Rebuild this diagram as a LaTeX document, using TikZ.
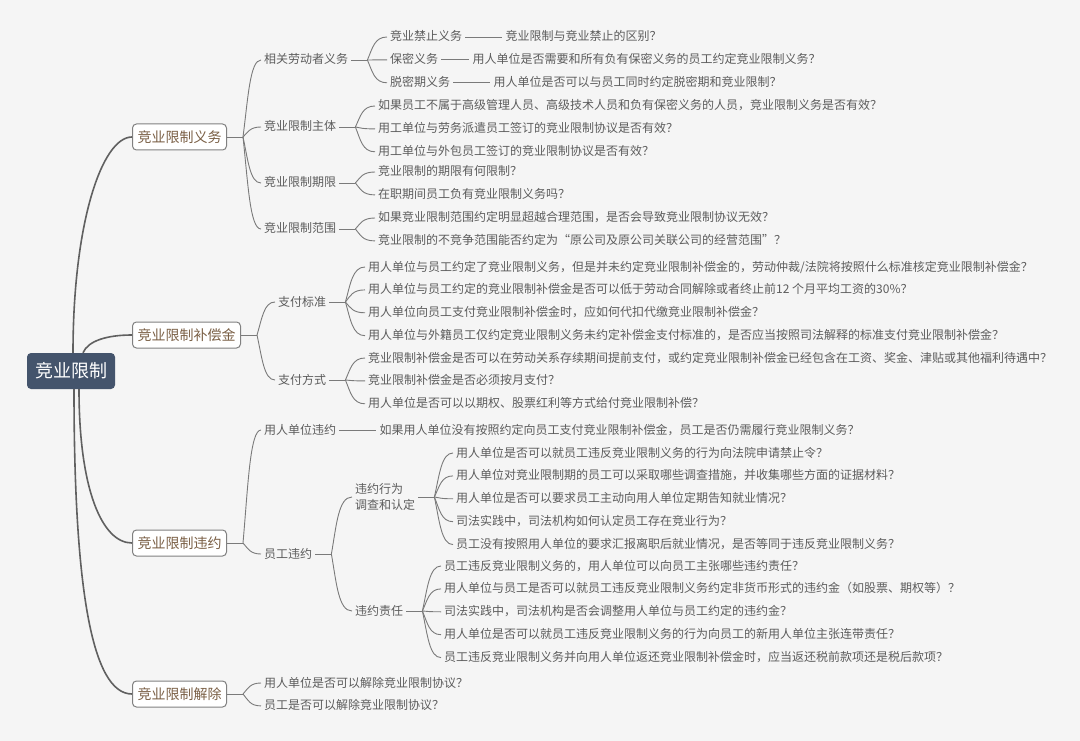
\documentclass[tikz,border=0pt]{standalone}
\usepackage{fontspec}
\newfontfamily\cjk{Noto Sans CJK SC}
\usepackage{tikz}
\usetikzlibrary{positioning}
\usetikzlibrary{calc}
\definecolor{bgcol}{HTML}{F5F5F5}
\definecolor{rootcol}{HTML}{44546C}
\definecolor{txtgray}{HTML}{5C5C5C}
\definecolor{boxtxt}{HTML}{7A5F45}
\definecolor{boxline}{HTML}{808080}
\definecolor{linegray}{HTML}{7A7A7A}
\definecolor{trunkgray}{HTML}{606060}
\tikzset{bw/.style n args={2}{below=#1 of #2.south west, anchor=north west}}
\tikzset{fork/.style={to path={let \p1=(\tikztostart), \p2=(\tikztotarget) in .. controls (\x1+5pt,{0.5*\y1+0.5*\y2}) and (\x1+7pt,\y2) .. (\tikztotarget)}}}

\begin{document}
\begin{tikzpicture}[x=1pt,y=-1pt]
\tikzstyle{sub} = [text=txtgray, font=\cjk\fontsize{12}{16}\selectfont, inner xsep=3pt, inner ysep=1pt, anchor=west]
\tikzstyle{leaf} = [sub, text height=10pt, text depth=2pt]
\tikzstyle{topic} = [draw=boxline, fill=white, rounded corners=4pt, line width=1pt, text=boxtxt, font=\cjk\fontsize{14}{16}\selectfont, inner xsep=5pt, minimum height=26pt, anchor=west]
\tikzstyle{hub} = [fill=rootcol, rounded corners=4pt, text=white, font=\cjk\fontsize{18}{20}\selectfont, inner xsep=8pt, minimum height=36pt]
\tikzstyle{trunk} = [draw=trunkgray, line width=1.6pt]
\tikzstyle{twig} = [color=linegray, line width=0.9pt]

\fill[bgcol] (0,0) rectangle (1080,741);
\useasboundingbox (0,0) rectangle (1080,741);

\node[hub] (root) at (71,371) {竞业限制};
\node[topic] (ob) at (132,137) {竞业限制义务};
\node[topic] (cp) at (132,335) {竞业限制补偿金};
\node[topic] (br) at (132,543) {竞业限制违约};
\node[topic] (rl) at (132,694) {竞业限制解除};

\node[leaf] (ob1) at (261,60)  {相关劳动者义务};
\node[leaf] (ob2) at (261,127) {竞业限制主体};
\node[leaf] (ob3) at (261,183) {竞业限制期限};
\node[leaf] (ob4) at (261,229) {竞业限制范围};

\node[leaf] (ob1a) at (387,37)       {竞业禁止义务};
\node[leaf] (ob1b) [bw={8.5pt}{ob1a}] {保密义务};
\node[leaf] (ob1c) [bw={8.5pt}{ob1b}] {脱密期义务};
\node[leaf] (ob1a1) [right=37pt of ob1a] {竞业限制与竞业禁止的区别？};
\node[leaf] (ob1b1) [right=28pt of ob1b] {用人单位是否需要和所有负有保密义务的员工约定竞业限制义务？};
\node[leaf] (ob1c1) [right=37pt of ob1c] {用人单位是否可以与员工同时约定脱密期和竞业限制？};

\node[leaf] (ob2a) at (375,106)      {如果员工不属于高级管理人员、高级技术人员和负有保密义务的人员，竞业限制义务是否有效？};
\node[leaf] (ob2b) [bw={8.5pt}{ob2a}] {用工单位与劳务派遣员工签订的竞业限制协议是否有效？};
\node[leaf] (ob2c) [bw={8.5pt}{ob2b}] {用工单位与外包员工签订的竞业限制协议是否有效？};
\node[leaf] (ob3a) at (375,172)      {竞业限制的期限有何限制？};
\node[leaf] (ob3b) [bw={8.5pt}{ob3a}] {在职期间员工负有竞业限制义务吗？};
\node[leaf] (ob4a) at (375,218)      {如果竞业限制范围约定明显超越合理范围，是否会导致竞业限制协议无效？};
\node[leaf] (ob4b) [bw={8.5pt}{ob4a}] {竞业限制的不竞争范围能否约定为“原公司及原公司关联公司的经营范围”？};

\node[leaf] (cp1) at (275,302) {支付标准};
\node[leaf] (cp2) at (275,380) {支付方式};
\node[leaf] (cp1a) at (365,267)      {用人单位与员工约定了竞业限制义务，但是并未约定竞业限制补偿金的，劳动仲裁/法院将按照什么标准核定竞业限制补偿金？};
\node[leaf] (cp1b) [bw={8.5pt}{cp1a}] {用人单位与员工约定的竞业限制补偿金是否可以低于劳动合同解除或者终止前12 个月平均工资的30\%？};
\node[leaf] (cp1c) [bw={8.5pt}{cp1b}] {用人单位向员工支付竞业限制补偿金时，应如何代扣代缴竞业限制补偿金？};
\node[leaf] (cp1d) [bw={8.5pt}{cp1c}] {用人单位与外籍员工仅约定竞业限制义务未约定补偿金支付标准的，是否应当按照司法解释的标准支付竞业限制补偿金？};
\node[leaf] (cp2a) at (365,358)      {竞业限制补偿金是否可以在劳动关系存续期间提前支付，或约定竞业限制补偿金已经包含在工资、奖金、津贴或其他福利待遇中？};
\node[leaf] (cp2b) [bw={8.5pt}{cp2a}] {竞业限制补偿金是否必须按月支付？};
\node[leaf] (cp2c) [bw={8.5pt}{cp2b}] {用人单位是否可以以期权、股票红利等方式给付竞业限制补偿？};

\node[leaf] (br1) at (261,430) {用人单位违约};
\node[leaf] (br1a) [right=37pt of br1] {如果用人单位没有按照约定向员工支付竞业限制补偿金，员工是否仍需履行竞业限制义务？};
\node[leaf] (br2) at (261,554) {员工违约};
\node[sub, align=left] (br2a) at (352,497) {违约行为\\调查和认定};
\node[leaf] (br2b) at (352,611) {违约责任};
\node[leaf] (br2a1) at (453,453)       {用人单位是否可以就员工违反竞业限制义务的行为向法院申请禁止令？};
\node[leaf] (br2a2) [bw={8.5pt}{br2a1}] {用人单位对竞业限制期的员工可以采取哪些调查措施，并收集哪些方面的证据材料？};
\node[leaf] (br2a3) [bw={8.5pt}{br2a2}] {用人单位是否可以要求员工主动向用人单位定期告知就业情况？};
\node[leaf] (br2a4) [bw={8.5pt}{br2a3}] {司法实践中，司法机构如何认定员工存在竞业行为？};
\node[leaf] (br2a5) [bw={8.5pt}{br2a4}] {员工没有按照用人单位的要求汇报离职后就业情况，是否等同于违反竞业限制义务？};
\node[leaf] (br2b1) at (441,566)       {员工违反竞业限制义务的，用人单位可以向员工主张哪些违约责任？};
\node[leaf] (br2b2) [bw={8.5pt}{br2b1}] {用人单位与员工是否可以就员工违反竞业限制义务约定非货币形式的违约金（如股票、期权等）？};
\node[leaf] (br2b3) [bw={8.5pt}{br2b2}] {司法实践中，司法机构是否会调整用人单位与员工约定的违约金？};
\node[leaf] (br2b4) [bw={8.5pt}{br2b3}] {用人单位是否可以就员工违反竞业限制义务的行为向员工的新用人单位主张连带责任？};
\node[leaf] (br2b5) [bw={8.5pt}{br2b4}] {员工违反竞业限制义务并向用人单位返还竞业限制补偿金时，应当返还税前款项还是税后款项？};

\node[leaf] (rl1) at (261,683)      {用人单位是否可以解除竞业限制协议？};
\node[leaf] (rl2) [bw={8.5pt}{rl1}] {员工是否可以解除竞业限制协议？};

\coordinate[right=16pt of ob.east] (obf);
\coordinate[right=16pt of cp.east] (cpf);
\coordinate[right=16pt of br.east] (brf);
\coordinate[right=16pt of rl.east] (rlf);
\coordinate[right=16pt of ob1.east] (ob1f);
\coordinate[right=16pt of ob2.east] (ob2f);
\coordinate[right=16pt of ob3.east] (ob3f);
\coordinate[right=16pt of ob4.east] (ob4f);
\coordinate[right=16pt of cp1.east] (cp1f);
\coordinate[right=16pt of cp2.east] (cp2f);
\coordinate[right=16pt of br2.east] (br2f);
\coordinate[right=16pt of br2a.east] (br2af);
\coordinate[right=16pt of br2b.east] (br2bf);

\draw[trunk] ($(root.north)+(2,0)$)  .. controls +(0,-130) and +(-30,0) .. (ob.west);
\draw[trunk] ($(root.north)+(12,0)$) .. controls +(5,-12) and +(-25,0) .. (cp.west);
\draw[trunk] ($(root.south)+(8,0)$)  .. controls +(0,100) and +(-30,0) .. (br.west);
\draw[trunk] ($(root.south)+(3,0)$)  .. controls +(0,200) and +(-40,0) .. (rl.west);

\path[twig]
   (ob.east) edge (obf)
   (obf) edge[fork] (ob1.west) (obf) edge[fork] (ob2.west)
   (obf) edge[fork] (ob3.west) (obf) edge[fork] (ob4.west)
   (ob1.east) edge (ob1f)
   (ob1f) edge[fork] (ob1a.west) (ob1f) edge[fork] (ob1b.west) (ob1f) edge[fork] (ob1c.west)
   (ob1a.east) edge (ob1a1.west)
   (ob1b.east) edge (ob1b1.west)
   (ob1c.east) edge (ob1c1.west)
   (ob2.east) edge (ob2f)
   (ob2f) edge[fork] (ob2a.west) (ob2f) edge[fork] (ob2b.west) (ob2f) edge[fork] (ob2c.west)
   (ob3.east) edge (ob3f)
   (ob3f) edge[fork] (ob3a.west) (ob3f) edge[fork] (ob3b.west)
   (ob4.east) edge (ob4f)
   (ob4f) edge[fork] (ob4a.west) (ob4f) edge[fork] (ob4b.west)
;

\path[twig]
   (cp.east) edge (cpf)
   (cpf) edge[fork] (cp1.west) (cpf) edge[fork] (cp2.west)
   (cp1.east) edge (cp1f)
   (cp1f) edge[fork] (cp1a.west) (cp1f) edge[fork] (cp1b.west)
   (cp1f) edge[fork] (cp1c.west) (cp1f) edge[fork] (cp1d.west)
   (cp2.east) edge (cp2f)
   (cp2f) edge[fork] (cp2a.west) (cp2f) edge[fork] (cp2b.west) (cp2f) edge[fork] (cp2c.west)
;

\path[twig]
   (br.east) edge (brf)
   (brf) edge[fork] (br1.west) (brf) edge[fork] (br2.west)
   (br1.east) edge (br1a.west)
   (br2.east) edge (br2f)
   (br2f) edge[fork] (br2a.west) (br2f) edge[fork] (br2b.west)
   (br2a.east) edge (br2af)
   (br2af) edge[fork] (br2a1.west) (br2af) edge[fork] (br2a2.west) (br2af) edge[fork] (br2a3.west)
   (br2af) edge[fork] (br2a4.west) (br2af) edge[fork] (br2a5.west)
   (br2b.east) edge (br2bf)
   (br2bf) edge[fork] (br2b1.west) (br2bf) edge[fork] (br2b2.west) (br2bf) edge[fork] (br2b3.west)
   (br2bf) edge[fork] (br2b4.west) (br2bf) edge[fork] (br2b5.west)
   (rl.east) edge (rlf)
   (rlf) edge[fork] (rl1.west) (rlf) edge[fork] (rl2.west)
;

\end{tikzpicture}
\end{document}
